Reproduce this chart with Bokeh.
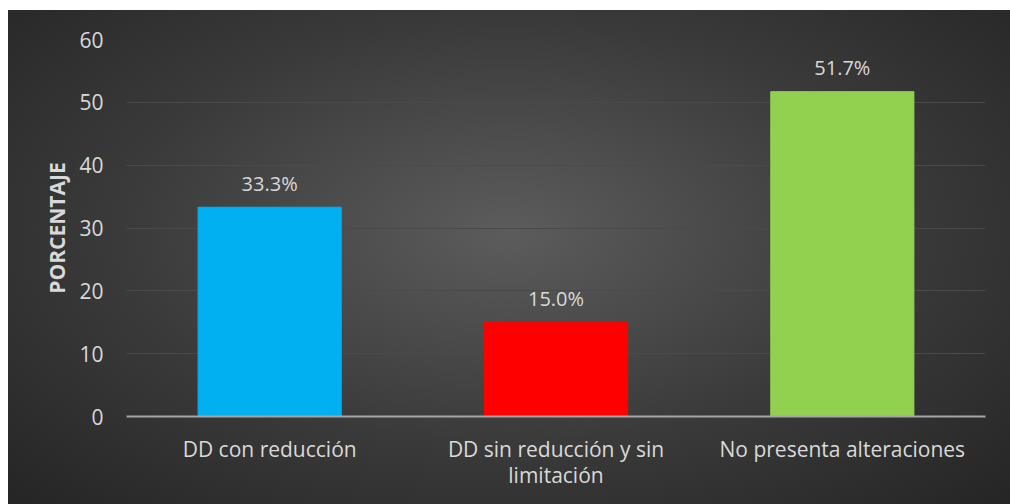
from bokeh.plotting import figure
from bokeh.models import ColumnDataSource, Spacer, FactorRange
from bokeh.layouts import column, row
from bokeh.embed import file_html
from bokeh.resources import INLINE
from bokeh.core.properties import value

categories = ["DD con reducción", "DD sin reducción y sin\nlimitación", "No presenta alteraciones"]
percentages = [33.3, 15.0, 51.7]
labels = ["33.3%", "15.0%", "51.7%"]
bar_colors = ["#00B0F0", "#FF0000", "#92D050"]
y_ticks = [0, 10, 20, 30, 40, 50, 60]

FONT = "Open Sans"
TXT = "#d9d9d9"

src = ColumnDataSource(dict(cat=categories, val=percentages, lab=labels, col=bar_colors))

p = figure(x_range=FactorRange(factors=categories, range_padding=0), y_range=(0, 60),
           frame_width=859, frame_height=377, output_backend="svg", toolbar_location=None,
           min_border_left=118, min_border_right=25, min_border_top=29, min_border_bottom=88)
p.styles = {"background": "radial-gradient(ellipse farthest-corner at 50% 45%, #5c5c5c 0%, #3a3a3a 55%, #252525 100%)"}
p.background_fill_color = None
p.border_fill_color = None
p.outline_line_color = None

p.vbar(x="cat", top="val", width=0.5, color="col", source=src)
p.text(x="cat", y="val", text="lab", source=src, text_align="center", text_baseline="middle",
       y_offset=-24, text_color=TXT, text_font=value(FONT), text_font_size="20px")

p.xgrid.grid_line_color = None
p.ygrid.grid_line_color = "#4a4a4a"
p.ygrid.grid_line_width = 1

p.yaxis.ticker = y_ticks
p.yaxis.axis_line_color = None
p.yaxis.major_tick_line_color = None
p.yaxis.minor_tick_line_color = None
p.yaxis.major_label_standoff = 17
p.yaxis.major_label_text_color = TXT
p.yaxis.major_label_text_font = FONT
p.yaxis.major_label_text_font_size = "21px"
p.yaxis.axis_label = "PORCENTAJE"
p.yaxis.axis_label_text_font = FONT
p.yaxis.axis_label_text_font_style = "bold"
p.yaxis.axis_label_text_font_size = "21px"
p.yaxis.axis_label_text_color = TXT
p.yaxis.axis_label_standoff = 5

p.xaxis.axis_line_color = "#a6a6a6"
p.xaxis.axis_line_width = 2
p.xaxis.major_tick_line_color = None
p.xaxis.minor_tick_line_color = None
p.xaxis.major_label_standoff = 12
p.xaxis.major_label_text_color = TXT
p.xaxis.major_label_text_font = FONT
p.xaxis.major_label_text_font_size = "21px"
p.xaxis.major_label_text_line_height = 0.95

layout = column(Spacer(height=10), row(Spacer(width=8), p))
open("out.html", "w").write(file_html(layout, INLINE))
